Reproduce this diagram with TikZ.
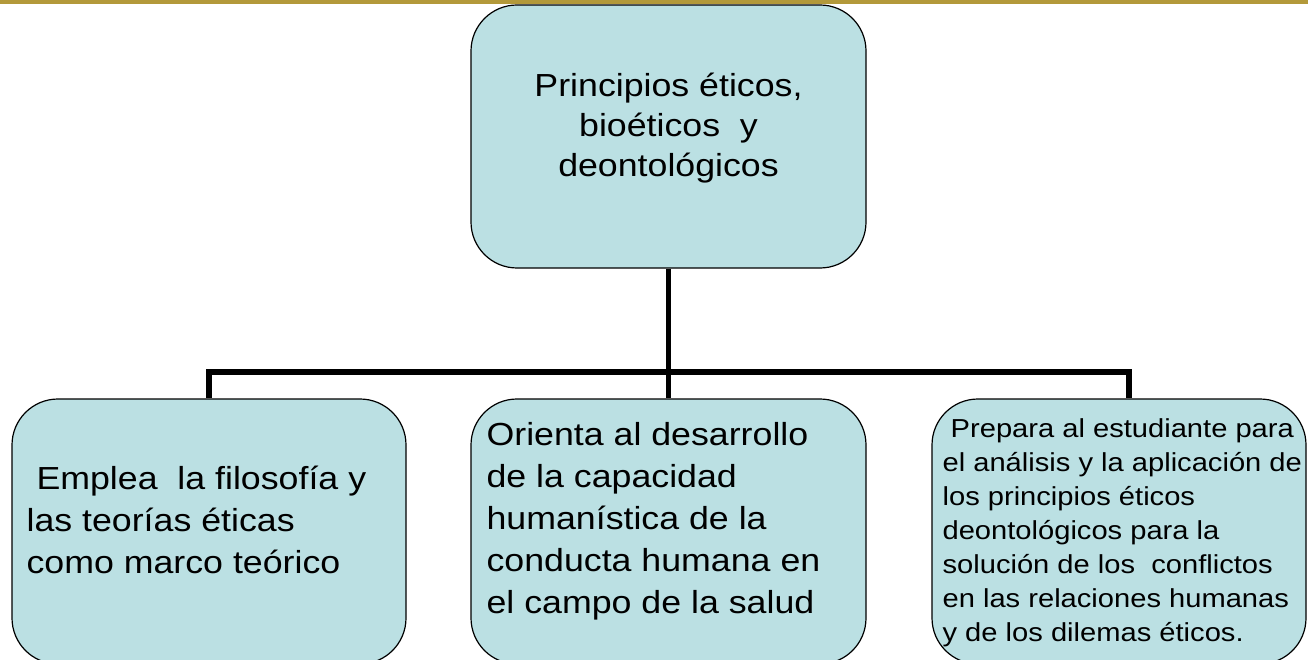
\documentclass[tikz,border=0pt]{standalone}
\usepackage{fontspec}
\setmainfont{Liberation Sans}[FakeStretch=1.12]
\usepackage{xcolor}
\usetikzlibrary{positioning}
\definecolor{cajaazul}{RGB}{187,224,227}
\definecolor{franja}{RGB}{179,153,58}

\begin{document}
\begin{tikzpicture}[x=1pt, y=-1pt,
				caja/.style={draw=black, line width=1.2pt, fill=cajaazul,
					rounded corners=46pt, minimum height=265pt},
				texto/.style={inner sep=0pt, anchor=west, align=left},
				grande/.style={font=\fontsize{31.9}{42}\selectfont},
				chico/.style={font=\fontsize{26}{34}\selectfont},
				rama/.style={line width=5.5pt, black}]
				\useasboundingbox (0,0) rectangle (1308,660);
				\fill[franja] (0,0) rectangle (1308,4.5);
				% cajas
				\node at (668.5,136.5) (principios) [caja, minimum width=395pt, minimum height=263pt] {};
				\node at (209,531.5) (emplea) [caja, minimum width=394pt] {};
				\node at (668.5,531.5) (orienta) [caja, minimum width=395pt] {};
				\node at (1119,531.5) (prepara) [caja, minimum width=374pt] {};
				% textos
				\node at (principios) (principios-txt) [inner sep=0pt, align=center, yshift=8pt, font=\fontsize{31.9}{40}\selectfont] {Principios éticos,\\ bioéticos~ y\\ deontológicos};
				\node at ([xshift=15pt]emplea.west) (emplea-txt) [texto, grande, yshift=12pt] {~Emplea~ la filosofía y\\ las teorías éticas\\ como marco teórico};
				\node at ([xshift=16pt]orienta.west) (orienta-txt) [texto, grande, yshift=10pt] {Orienta al desarrollo\\ de la capacidad\\ humanística de la\\ conducta humana en\\ el campo de la salud};
				\node at ([xshift=11pt]prepara.west) (prepara-txt) [texto, chico, yshift=-1pt] {~Prepara al estudiante para\\ el análisis y la aplicación de\\ los principios éticos\\ deontológicos para la\\ solución de los~ conflictos\\ en las relaciones humanas\\ y de los dilemas éticos.};
				% conectores
				\coordinate (cruce) at (668.5,372);
				\draw[rama] (principios) -- (cruce);
				\draw[rama] (cruce) -| (emplea);
				\draw[rama] (cruce) -- (orienta);
				\draw[rama] (cruce) -| ([xshift=10pt]prepara.north);
\end{tikzpicture}
\end{document}
